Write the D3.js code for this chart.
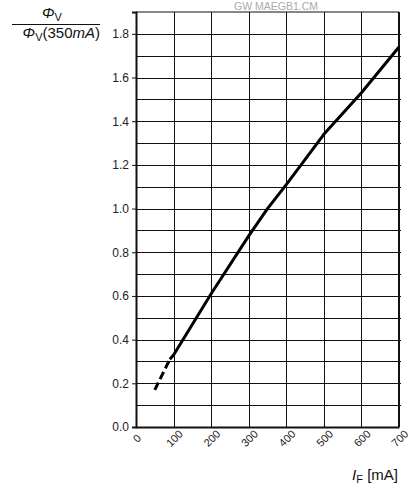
<!DOCTYPE html>
<html>
<head>
<meta charset="utf-8">
<script src="https://cdn.jsdelivr.net/npm/d3@7"></script>
<style>
  body { margin: 0; background: #fff; }
  text { font-family: "Liberation Sans", Arial, sans-serif; }
</style>
</head>
<body>
<div id="chart"></div>
<script>
// relative flux vs forward current
var dashedPts = [[50, 0.17], [90, 0.31]];
var solidPts = [[90, 0.31], [100, 0.33], [200, 0.61], [300, 0.875], [350, 1.0],
                [400, 1.11], [500, 1.34], [600, 1.53], [700, 1.74]];
var xTicks = [0, 100, 200, 300, 400, 500, 600, 700];
var yTicks = [0, 0.2, 0.4, 0.6, 0.8, 1.0, 1.2, 1.4, 1.6, 1.8];
var yGrid = d3.range(1, 19).map(function(d){ return d / 10; });

var W = 411, H = 489;
var margin = {top: 12, right: 12, bottom: 62, left: 136};

var svg = d3.select("#chart").append("svg")
  .attr("width", W).attr("height", H);

var x = d3.scaleLinear().domain([0, 700]).range([margin.left, W - margin.right]);
var y = d3.scaleLinear().domain([0, 1.9]).range([H - margin.bottom, margin.top]);

// grid
svg.append("g").selectAll("line").data(yGrid).enter().append("line")
  .attr("x1", x(0)).attr("x2", x(700))
  .attr("y1", function(d){ return Math.round(y(d)) + 0.5; })
  .attr("y2", function(d){ return Math.round(y(d)) + 0.5; })
  .attr("stroke", "#111").attr("stroke-width", 1);
svg.append("g").selectAll("line").data(xTicks.slice(1, -1)).enter().append("line")
  .attr("y1", y(0)).attr("y2", y(1.9))
  .attr("x1", function(d){ return Math.round(x(d)) + 0.5; })
  .attr("x2", function(d){ return Math.round(x(d)) + 0.5; })
  .attr("stroke", "#111").attr("stroke-width", 1);

// right-side small ticks
svg.append("g").selectAll("line").data(yGrid).enter().append("line")
  .attr("x1", x(700)).attr("x2", x(700) + 2)
  .attr("y1", function(d){ return Math.round(y(d)) + 0.5; })
  .attr("y2", function(d){ return Math.round(y(d)) + 0.5; })
  .attr("stroke", "#111");

// frame
svg.append("line").attr("x1", x(0)).attr("x2", x(700)).attr("y1", y(1.9)).attr("y2", y(1.9))
  .attr("stroke", "#111").attr("stroke-width", 1.2);
svg.append("line").attr("x1", x(700)).attr("x2", x(700)).attr("y1", y(1.9)).attr("y2", y(0))
  .attr("stroke", "#111").attr("stroke-width", 2);

// y axis
var yAxis = svg.append("g")
  .attr("transform", "translate(" + x(0) + ",0)")
  .call(d3.axisLeft(y).tickValues(yTicks).tickFormat(d3.format(".1f")).tickSize(4).tickPadding(3));
yAxis.select(".domain").attr("stroke", "#111").attr("stroke-width", 2);
yAxis.selectAll(".tick line").attr("stroke", "#111");
yAxis.selectAll("text").attr("font-size", 12).attr("fill", "#222")
  .style("font-family", "'Liberation Sans', Arial, sans-serif");

// x axis
var xAxis = svg.append("g")
  .attr("transform", "translate(0," + y(0) + ")")
  .call(d3.axisBottom(x).tickValues(xTicks).tickSize(0).tickPadding(0));
xAxis.select(".domain").attr("stroke", "#111").attr("stroke-width", 2);
xAxis.selectAll("text")
  .attr("font-size", 11).attr("fill", "#222")
  .style("font-family", "'Liberation Sans', Arial, sans-serif")
  .attr("text-anchor", "middle")
  .attr("dy", null).attr("y", 0)
  .attr("transform", "translate(1,12) rotate(-45)")
  .attr("dominant-baseline", "middle");

// curve
var line = d3.line().x(function(d){ return x(d[0]); }).y(function(d){ return y(d[1]); });
svg.append("path").datum(dashedPts).attr("d", line)
  .attr("fill", "none").attr("stroke", "#000").attr("stroke-width", 3)
  .attr("stroke-dasharray", "8,4");
svg.append("path").datum(solidPts).attr("d", line)
  .attr("fill", "none").attr("stroke", "#000").attr("stroke-width", 3)
  .attr("stroke-linejoin", "round");

// watermark
svg.append("text").attr("x", 276).attr("y", 10).attr("text-anchor", "middle")
  .attr("font-size", 10.5).attr("fill", "#aaa").text("GW MAEGB1.CM");

// y label (fraction)
var yl = svg.append("g");
var t1 = yl.append("text").attr("x", 52).attr("y", 18).attr("text-anchor", "middle")
  .attr("font-size", 15).attr("fill", "#111");
t1.append("tspan").attr("font-style", "italic").text("\u03A6");
t1.append("tspan").attr("font-size", 11).attr("dy", 3).text("V");
yl.append("line").attr("x1", 12).attr("x2", 100).attr("y1", 24.5).attr("y2", 24.5)
  .attr("stroke", "#111").attr("stroke-width", 1);
var t2 = yl.append("text").attr("x", 100).attr("y", 38).attr("text-anchor", "end")
  .attr("font-size", 15).attr("fill", "#111");
t2.append("tspan").attr("font-style", "italic").text("\u03A6");
t2.append("tspan").attr("font-size", 11).attr("dy", 3).text("V");
t2.append("tspan").attr("dy", -3).text("(350");
t2.append("tspan").attr("font-style", "italic").text("mA");
t2.append("tspan").text(")");

// x label
var xl = svg.append("text").attr("x", 398).attr("y", 480).attr("text-anchor", "end")
  .attr("font-size", 15).attr("fill", "#111");
xl.append("tspan").attr("font-style", "italic").text("I");
xl.append("tspan").attr("font-size", 11).attr("dy", 3).text("F");
xl.append("tspan").attr("dy", -3).text(" [mA]");
</script>
</body>
</html>
